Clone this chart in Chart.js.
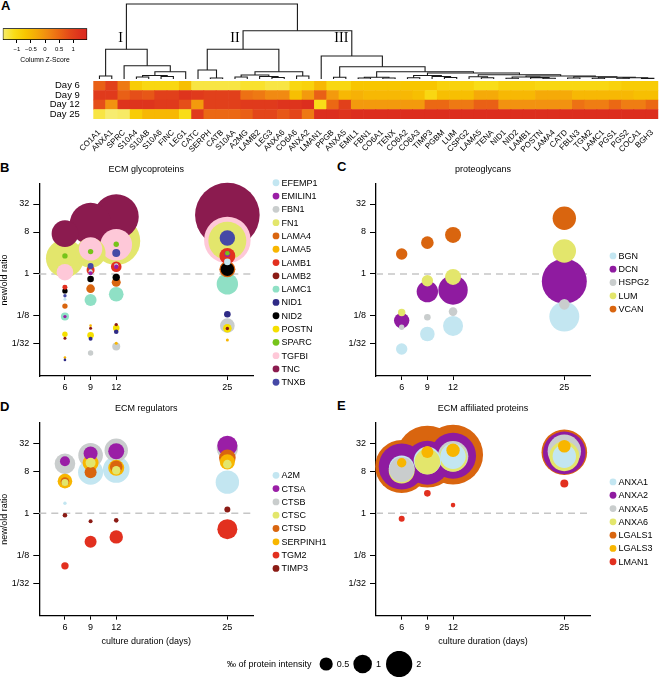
<!DOCTYPE html>
<html><head><meta charset="utf-8"><title>ECM proteins</title>
<script src="https://cdn.jsdelivr.net/npm/chart.js@4.4.1/dist/chart.umd.min.js"></script>
<style>
html,body{margin:0;padding:0;background:#fff}
body{position:relative;width:660px;height:678px;overflow:hidden}
canvas{position:absolute}
.lt{position:absolute;font:bold 13px/13px "Liberation Sans",Arial,sans-serif;color:#000}
</style></head><body>
<div class="lt" style="left:1px;top:-1px">A</div>
<div class="lt" style="left:0px;top:161px">B</div>
<div class="lt" style="left:337px;top:160px">C</div>
<div class="lt" style="left:0px;top:400px">D</div>
<div class="lt" style="left:337px;top:399px">E</div>
<canvas id="dendro" width="660" height="81" style="left:0;top:0"></canvas>
<canvas id="key" width="100" height="52" style="left:0;top:20px"></canvas>
<canvas id="heat" width="660" height="82" style="left:0;top:78px"></canvas>
<canvas id="pB" width="330" height="239" style="left:0;top:159px"></canvas>
<canvas id="pC" width="330" height="239" style="left:330px;top:159px"></canvas>
<canvas id="pD" width="330" height="255" style="left:0;top:398px"></canvas>
<canvas id="pE" width="330" height="255" style="left:330px;top:398px"></canvas>
<canvas id="sz" width="220" height="26" style="left:220px;top:651px"></canvas>
<script>
// ---------------- DATA ----------------
const proteins = ['CO1A1','ANXA1','SPRC','S10A4','S10AB','S10A6','FINC','LEG1','CATC','SERPH','CATB','S10AA','A2MG','LAMB2','LEG3','ANXA6','CO6A6','ANXA2','LMAN1','PPGB','ANXA5','EMIL1','FBN1','CO6A1','TENX','CO6A2','CO6A3','TIMP3','PGBM','LUM','CSPG2','LAMA5','TENA','NID1','NID2','LAMB1','POSTN','LAMA4','CATD','FBLN3','TGM2','LAMC1','PGS1','PGS2','COCA1','BGH3'];
const heatRows = ['Day 6','Day 9','Day 12','Day 25'];
const zDay6  = [0.6,1.0,0.3,-0.8,-1.0,-1.0,-1.0,-0.6, -1.3,-1.3,-1.3,-1.3,-1.2,-1.2,-1.3,-1.3,-1.0,-0.9, -0.5,-1.0,-1.0, -0.7,-0.7,-0.7,-0.7,-0.7,-0.7,-0.7, -0.9,-0.9,-0.9,-1.1,-1.1, -0.9,-0.9,-0.9, -1.0,-1.0,-1.0,-1.0,-1.0,-1.0, -0.9,-0.8,-0.8,-0.8];
const zDay9  = [1.1,1.1,0.6,0.8,0.7,1.0,1.0,1.2, 1.1,1.0,1.0,1.0,0.4,0.3,0.1,0.1,-0.6,-0.1, 0.6,-0.1,-0.5, -0.4,-0.5,-0.5,-0.5,-0.5,-0.6,-1.0, -0.6,-0.6,-0.6,-0.3,-0.3, -0.5,-0.5,-0.5, -0.3,-0.3,-0.3,-0.5,-0.5,-0.5, -0.5,-0.5,-0.6,-0.6];
const zDay12 = [0.8,0.0,1.2,1.2,1.2,1.1,1.1,0.8, -0.1,1.0,1.0,1.0,1.1,1.1,1.1,1.2,1.2,1.3, -1.1,0.5,1.0, -0.1,-0.1,-0.1,-0.1,-0.1,-0.1,0.5, 0.5,0.3,0.3,0.6,0.6, 0.0,0.0,0.0, 0.0,0.0,0.0,0.4,0.25,0.25, 0.5,0.25,0.25,0.5];
const zDay25 = [-1.3,-1.5,-1.45,-0.8,-0.5,-0.5,-0.5,-1.1, 1.1,0.5,0.5,0.5,0.6,0.9,0.9,0.7,0.9,0.3, 1.3,1.3,1.2, 1.3,1.3,1.3,1.3,1.3,1.3,1.3, 1.3,1.3,1.3,1.3,1.3, 1.3,1.3,1.3, 1.3,1.3,1.3,1.3,1.3,1.3, 1.3,1.3,1.3,1.3];
const keyTicks = [-1, -0.5, 0, 0.5, 1];

// dendrogram (hclust-style merges: negative = leaf number, positive = merge row)
const dendroLeft   = [-1,-4,-6,2,4,-3,1, -10,-9,-12,-15,-14,10,-17,13,9, -20,-22,-24,18,-26,-29,-28,21,-32,-31,-34,-37,-36,27,-39,-41,-43,-45,33,32,31,30,26,24,20,17,-19,16,7];
const dendroRight  = [-2,-5,-7,3,-8,5,6, -11,8,-13,-16,11,12,-18,14,15, -21,-23,-25,19,-27,-30,22,23,-33,25,-35,-38,28,29,-40,-42,-44,-46,34,35,36,37,38,39,40,41,42,43,44];
const dendroHeight = [3,2,2.5,3.5,7.3,13.3,29.7, 1,9,2,1.5,2.5,4,3,7.3,29.7, 1.7,1,1,1.8,1.2,1.5,2.5,3.5,1.3,2.2,0.8,0.8,1.4,2.0,1.0,0.8,0.8,0.6,1.3,1.8,2.3,3.0,4.2,6.0,7.3,12.3,23,48.3,75];
const clusterNames = ['I','II','III'];
const clusterMerges = [7, 16, 43];

const days = [6, 9, 12, 25];
const ratioTicks = [1/32, 1/8, 1, 8, 32];
const ratioTickLabels = ['1/32','1/8','1','8','32'];

const glycoNames = ['EFEMP1','EMILIN1','FBN1','FN1','LAMA4','LAMA5','LAMB1','LAMB2','LAMC1','NID1','NID2','POSTN','SPARC','TGFBI','TNC','TNXB'];
const glycoColors = ['#c3e6f1','#9a1ea6','#c9cdcd','#e3e66c','#d9650f','#f8b600','#e2301f','#8b1b15','#8fe0c5','#2f2b86','#000000','#f5df00','#76c41a','#fec8d8','#8b1b4f','#4549a6'];
const glycoRatio = [
 [0.287, 1.15, 1.52, 1.82],
 [0.121, 1.04, 1.43, 2.69],
 [null, 0.020, 0.0274, 0.0774],
 [2.17, 2.83, 5.13, 5.2],
 [0.204, 0.483, 0.66, 1.26],
 [0.0159, 0.0774, 0.0324, 0.0382],
 [0.517, 1.22, 1.43, 2.45],
 [0.0412, 0.068, 0.0814, 0.067],
 [0.121, 0.275, 0.366, 0.611],
 [0.0142, 0.0406, 0.0574, 0.136],
 [0.432, 0.779, 0.847, 1.26],
 [0.0504, 0.048, 0.0688, 0.068],
 [2.45, 3.03, 4.35, 2.79],
 [1.09, 3.46, 4.26, 5.39],
 [7.36, 12.1, 17.1, 18.5],
 [0.341, 1.48, 2.83, 5.94]
];
const glycoIntensity = [
 [0.026, 0.046, 0.056, 0.126],
 [0.033, 0.046, 0.056, 0.104],
 [null, 0.084, 0.185, 0.62],
 [4.17, 2.6, 6.66, 4.17],
 [0.084, 0.214, 0.234, 0.74],
 [0.02, 0.02, 0.026, 0.026],
 [0.072, 0.185, 0.325, 0.73],
 [0.026, 0.026, 0.033, 0.033],
 [0.185, 0.416, 0.62, 1.32],
 [0.02, 0.046, 0.061, 0.126],
 [0.084, 0.126, 0.158, 0.52],
 [0.084, 0.126, 0.126, 0.214],
 [0.084, 0.084, 0.084, 0.061],
 [0.8, 1.58, 2.89, 6.28],
 [2.05, 5.0, 5.85, 12.06],
 [0.033, 0.104, 0.185, 0.69]
];

const pgNames = ['BGN','DCN','HSPG2','LUM','VCAN'];
const pgColors = ['#c3e6f1','#8f1ba0','#c9cdcd','#e3e66c','#d9650f'];
const pgRatio = [
 [0.0243, 0.0511, 0.0764, 0.121],
 [0.0994, 0.418, 0.454, 0.697],
 [0.0713, 0.117, 0.155, 0.222],
 [0.148, 0.717, 0.865, 3.12],
 [2.69, 4.72, 6.92, 15.8]
];
const pgIntensity = [
 [0.376, 0.616, 1.156, 2.6],
 [0.686, 1.32, 2.5, 5.85],
 [0.084, 0.126, 0.214, 0.325],
 [0.158, 0.376, 0.74, 1.58],
 [0.376, 0.46, 0.74, 1.58]
];

const regNames = ['A2M','CTSA','CTSB','CTSC','CTSD','SERPINH1','TGM2','TIMP3'];
const regColors = ['#c3e6f1','#9a1ea6','#c9cdcd','#e3e66c','#d9650f','#f8b600','#e2301f','#8b1b15'];
const regRatio = [
 [1.64, 7.62, 8.69, 4.66],
 [13.1, 19.2, 21.4, 28.2],
 [11.5, 17.5, 22.5, 24.9],
 [4.59, 12.1, 8.4, 11.3],
 [4.82, 7.62, 9.92, 15.5],
 [4.89, 12.1, 9.45, 12.7],
 [0.0749, 0.245, 0.312, 0.457],
 [0.908, 0.674, 0.707, 1.21]
];
const regIntensity = [
 [0.033, 1.81, 2.05, 1.58],
 [0.29, 0.567, 0.74, 1.156],
 [1.23, 1.75, 1.58, 1.32],
 [0.142, 0.29, 0.214, 0.214],
 [0.214, 0.416, 0.46, 0.8],
 [0.616, 0.74, 0.74, 0.668],
 [0.158, 0.416, 0.52, 1.156],
 [0.061, 0.046, 0.061, 0.104]
];

const affNames = ['ANXA1','ANXA2','ANXA5','ANXA6','LGALS1','LGALS3','LMAN1'];
const affColors = ['#c3e6f1','#8f1ba0','#c9cdcd','#e3e66c','#d9650f','#f8b600','#e2301f'];
const affRatio = [
 [9.19, 13.5, 16.7, 16.7],
 [10.1, 12.1, 17.1, 19.7],
 [8.69, null, 16.7, 21.4],
 [8.28, 12.7, 15.5, 16.7],
 [10.1, 16.4, 18.1, 20.4],
 [12.1, 20.7, 22.5, 27.3],
 [0.768, 2.68, 1.5, 4.38]
];
const affIntensity = [
 [1.89, 2.17, 1.86, 1.58],
 [6.12, 5.6, 6.12, 5.25],
 [1.81, null, 2.71, 3.22],
 [1.95, 1.89, 2.27, 2.6],
 [8.12, 11.1, 10.4, 6.01],
 [0.255, 0.416, 0.52, 0.459],
 [0.104, 0.126, 0.061, 0.185]
];

const sizeLegendValues = [0.5, 1, 2];
const sizeLegendTitle = '\u2030 of protein intensity';

// ---------------- STYLE / HELPERS ----------------
const FF = '"Liberation Sans", Arial, Helvetica, sans-serif';
Chart.defaults.font.family = FF;
Chart.defaults.color = '#000';
const K = 9.3; // px radius per sqrt(permille)
const heatStops = [[-1.5,[247,236,112]],[-1.1,[249,221,24]],[-0.7,[248,198,0]],[-0.3,[245,170,8]],[0.1,[241,138,18]],[0.5,[235,104,20]],[0.9,[227,70,26]],[1.3,[220,46,30]],[1.6,[218,38,30]]];
function rgbStr(c){return 'rgb('+c.map(v=>Math.round(v)).join(',')+')';}
function heatColor(z){
  const s = heatStops;
  if (z <= s[0][0]) return rgbStr(s[0][1]);
  for (let i=1;i<s.length;i++){
    if (z <= s[i][0]){
      const t=(z-s[i-1][0])/(s[i][0]-s[i-1][0]);
      return rgbStr(s[i-1][1].map((v,k)=>v+(s[i][1][k]-v)*t));
    }
  }
  return rgbStr(s[s.length-1][1]);
}

// dendrogram geometry from merges
const dendro = (function(){
  const pos = [], segs = [];
  const node = id => id < 0 ? {x: -id-1, h: 0} : pos[id-1];
  for (let i=0;i<dendroLeft.length;i++){
    const a = node(dendroLeft[i]), b = node(dendroRight[i]), h = dendroHeight[i];
    pos.push({x:(a.x+b.x)/2, h});
    segs.push([{x:a.x,y:a.h},{x:a.x,y:h},{x:b.x,y:h},{x:b.x,y:b.h}]);
  }
  return {pos, segs};
})();

const clusterLabelPlugin = {
  id:'clusterLabels',
  afterDatasetsDraw(chart){
    const {ctx, scales:{x,y}} = chart;
    ctx.save();
    ctx.font = '14px "Liberation Serif", "Times New Roman", serif';
    ctx.fillStyle = '#000'; ctx.textAlign = 'right'; ctx.textBaseline = 'middle';
    clusterMerges.forEach((m,i)=>{
      const n = dendro.pos[m-1];
      ctx.fillText(clusterNames[i], x.getPixelForValue(n.x)-3.5, y.getPixelForValue(41));
    });
    ctx.restore();
  }
};

new Chart(document.getElementById('dendro'), {
  type:'scatter',
  data:{datasets: dendro.segs.map(s=>({data:s, showLine:true, borderColor:'#1a1a1a', borderWidth:1.1, pointRadius:0, tension:0, clip:false}))},
  options:{responsive:false, animation:false, events:[],
    layout:{autoPadding:false, padding:{left:93.3,right:0,top:4,bottom:2}},
    plugins:{legend:{display:false},tooltip:{enabled:false}},
    scales:{x:{type:'linear',min:-0.5,max:45.5,display:false},y:{type:'linear',min:0,max:75,display:false}}},
  plugins:[clusterLabelPlugin]
});

// colour key
new Chart(document.getElementById('key'), {
  type:'bar',
  data:{labels:[''], datasets:[{
    data:[[-1.5,1.5]],
    backgroundColor:(c)=>{
      const ch = c.chart; if (!ch.chartArea) return '#f0a000';
      const xs = ch.scales.x;
      const g = ch.ctx.createLinearGradient(xs.getPixelForValue(-1.5),0,xs.getPixelForValue(1.5),0);
      heatStops.forEach(([z,col])=>{ const t=(z+1.5)/3; if (t>=0 && t<=1) g.addColorStop(t, rgbStr(col)); });
      g.addColorStop(1, heatColor(1.5));
      return g;
    },
    borderColor:'#000', borderWidth:1, borderSkipped:false, barPercentage:1, categoryPercentage:1}]},
  options:{indexAxis:'y', responsive:false, animation:false, events:[],
    layout:{autoPadding:false, padding:{left:2.7,right:12.7,top:8.3,bottom:0}},
    plugins:{legend:{display:false},tooltip:{enabled:false}},
    scales:{
      x:{type:'linear', min:-1.5, max:1.5,
         afterBuildTicks:s=>{s.ticks=keyTicks.map(v=>({value:v}));},
         ticks:{font:{size:6}, color:'#000', padding:3, callback:v=>String(v).replace('-','\u2212')},
         grid:{drawOnChartArea:false, color:'#000', tickLength:3},
         border:{display:false},
         title:{display:true, text:'Column Z-Score', color:'#000', font:{size:6.8, lineHeight:1.2}, padding:{top:0,bottom:7.9}},
         afterFit:s=>{s.height=32;}},
      y:{display:false}
    }}
});

// heatmap
const heatDatasets = [zDay25, zDay12, zDay9, zDay6].map(arr => ({
  data: arr.map(()=>1), backgroundColor: arr.map(heatColor), borderWidth:0, barPercentage:1, categoryPercentage:1
}));
new Chart(document.getElementById('heat'), {
  type:'bar',
  data:{labels: proteins, datasets: heatDatasets},
  options:{responsive:false, animation:false, events:[],
    layout:{autoPadding:false, padding:{top:3,right:0,left:0,bottom:0}},
    plugins:{legend:{display:false},tooltip:{enabled:false}},
    scales:{
      x:{stacked:true, grid:{display:false}, border:{display:false},
         ticks:{autoSkip:false, maxRotation:45, minRotation:45, font:{size:8}, color:'#000', padding:1},
         afterFit:s=>{s.height=41;}},
      y:{stacked:true, min:0, max:4, display:false},
      yDays:{type:'category', labels: heatRows, position:'left', offset:true,
         grid:{display:true, drawOnChartArea:false, color:'rgba(0,0,0,0)', tickLength:13.5}, border:{display:false},
         ticks:{autoSkip:false, font:{size:9.5, lineHeight:0.4}, color:'#000', padding:0},
         afterFit:s=>{s.width=93.3;}}
    }}
});

// bubble panels
const sideLegend = {
  id:'sideLegend',
  afterDraw(chart, args, o){
    const {ctx, chartArea} = chart;
    const n = o.names.length;
    const cy = (chartArea.top + chartArea.bottom)/2 + o.dy;
    ctx.save();
    ctx.font = '9px ' + FF; ctx.textBaseline = 'middle'; ctx.textAlign = 'left';
    o.names.forEach((nm,i)=>{
      const y = cy + (i-(n-1)/2)*o.step;
      const x = chartArea.right + o.dx;
      ctx.beginPath(); ctx.arc(x, y, 3.4, 0, Math.PI*2); ctx.fillStyle = o.colors[i]; ctx.fill();
      ctx.fillStyle = '#000'; ctx.fillText(nm, x+5.5, y+0.5);
    });
    ctx.restore();
  }
};

function bubblePoints(names, colors, ratio, intens){
  const pts = [];
  names.forEach((nm,i)=>{
    days.forEach((d,j)=>{
      const r = ratio[i][j], v = intens[i][j];
      if (r == null || v == null) return;
      pts.push({x:d, y:r, r:K*Math.sqrt(v), c:colors[i]});
    });
  });
  pts.sort((a,b)=>b.r-a.r);
  return pts;
}

function makeBubble(id, cfg){
  const pts = bubblePoints(cfg.names, cfg.colors, cfg.ratio, cfg.intens);
  return new Chart(document.getElementById(id), {
    type:'bubble',
    data:{datasets:[
      {type:'line', data:[{x:3,y:1},{x:28,y:1}], borderColor:'#c6c6c6', borderWidth:1.6, borderDash:[7,5], pointRadius:0, order:2, clip:false},
      {data:pts, backgroundColor:pts.map(p=>p.c), borderWidth:0, hoverRadius:0, order:1, clip:false}
    ]},
    options:{responsive:false, animation:false, events:[],
      layout:{autoPadding:false, padding:{left:0, right:cfg.padRight, top:0, bottom:0}},
      plugins:{
        legend:{display:false}, tooltip:{enabled:false},
        title:{display:true, text:cfg.title, fullSize:false, color:'#000', font:{size:9, weight:'normal', lineHeight:1.2}, padding:{top:cfg.titleTop, bottom:8.6}},
        sideLegend:{names:cfg.names, colors:cfg.colors, dx:23, dy:2.5, step:13.3}
      },
      scales:{
        x:{type:'linear', min:3, max:28,
           afterBuildTicks:s=>{s.ticks = days.map(v=>({value:v}));},
           ticks:{font:{size:9}, color:'#000', padding:2},
           grid:{drawOnChartArea:false, color:'#000', tickLength:4, tickWidth:1},
           border:{color:'#000', width:1.3},
           title:{display:!!cfg.xTitle, text:cfg.xTitle||'', color:'#000', font:{size:9, lineHeight:1.2}, padding:{top:0, bottom:5.6}},
           afterFit:s=>{s.height = cfg.xHeight;}},
        y:{type:'logarithmic', min:Math.pow(2,-7.29), max:Math.pow(2,6.43),
           afterBuildTicks:s=>{s.ticks = ratioTicks.map(v=>({value:v}));},
           ticks:{font:{size:9}, color:'#000', padding:4, callback:(v,i)=>ratioTickLabels[i]},
           grid:{drawOnChartArea:false, color:'#000', tickLength:6, tickWidth:1},
           border:{color:'#000', width:1.3},
           title:{display:!!cfg.yTitle, text:cfg.yTitle||'', color:'#000', font:{size:9, lineHeight:1}, padding:{top:0,bottom:0}},
           afterFit:s=>{s.width = cfg.yWidth;}}
      }},
    plugins:[sideLegend]
  });
}

makeBubble('pB', {names:glycoNames, colors:glycoColors, ratio:glycoRatio, intens:glycoIntensity, title:'ECM glycoproteins', yTitle:'new/old ratio', xTitle:null, yWidth:39.3, padRight:77, titleTop:5.6, xHeight:22});
makeBubble('pC', {names:pgNames, colors:pgColors, ratio:pgRatio, intens:pgIntensity, title:'proteoglycans', yTitle:null, xTitle:null, yWidth:46, padRight:70, titleTop:5.6, xHeight:22});
makeBubble('pD', {names:regNames, colors:regColors, ratio:regRatio, intens:regIntensity, title:'ECM regulators', yTitle:'new/old ratio', xTitle:'culture duration (days)', yWidth:39.3, padRight:77, titleTop:5.6, xHeight:37.3});
makeBubble('pE', {names:affNames, colors:affColors, ratio:affRatio, intens:affIntensity, title:'ECM affiliated proteins', yTitle:null, xTitle:'culture duration (days)', yWidth:46, padRight:70, titleTop:5.6, xHeight:37.3});

// size legend
const sizeLabelPlugin = {
  id:'sizeLabels',
  afterDatasetsDraw(chart){
    const {ctx} = chart;
    const els = chart.getDatasetMeta(0).data;
    ctx.save();
    ctx.font = '9px ' + FF; ctx.fillStyle = '#000'; ctx.textBaseline = 'middle';
    ctx.textAlign = 'left';
    els.forEach((el,i)=>{
      const r = chart.data.datasets[0].data[i].r;
      ctx.fillText(String(sizeLegendValues[i]), el.x + r + 4, el.y + 0.5);
    });
    const r0 = chart.data.datasets[0].data[0].r;
    ctx.textAlign = 'right';
    ctx.fillText(sizeLegendTitle, els[0].x - r0 - 8, els[0].y + 0.5);
    ctx.restore();
  }
};
new Chart(document.getElementById('sz'), {
  type:'bubble',
  data:{datasets:[{data:sizeLegendValues.map((v,i)=>({x:i, y:0, r:K*Math.sqrt(v)})), backgroundColor:'#000', borderWidth:0, hoverRadius:0, clip:false}]},
  options:{responsive:false, animation:false, events:[],
    layout:{autoPadding:false, padding:0},
    plugins:{legend:{display:false},tooltip:{enabled:false}},
    scales:{x:{type:'linear',min:-2.91,max:3.12,display:false},y:{type:'linear',min:-1,max:1,display:false}}},
  plugins:[sizeLabelPlugin]
});
</script>
</body></html>
